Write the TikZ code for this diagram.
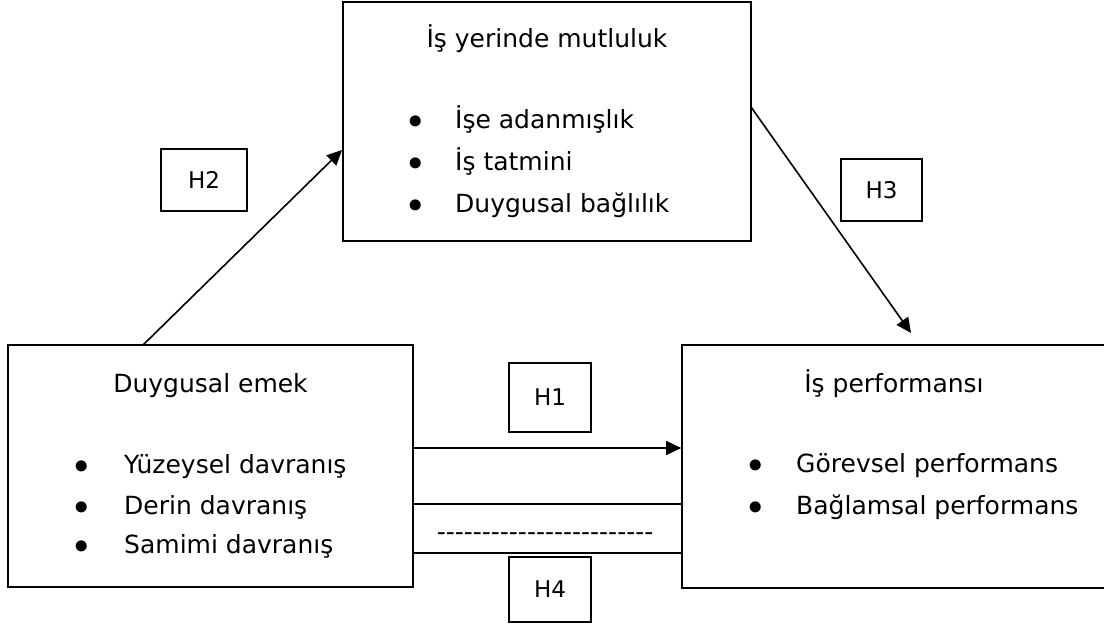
\documentclass[tikz,border=0pt]{standalone}
\usepackage{fontspec}
\setmainfont{DejaVu Sans}
\usetikzlibrary{arrows.meta}
\begin{document}
\begin{tikzpicture}[x=1pt,y=-1pt,
  box/.style={draw, line width=1.6pt, rectangle, inner sep=0pt},
  hbox/.style={draw, line width=1.4pt, rectangle, inner sep=0pt, font=\fontsize{23}{27}\selectfont},
  txt/.style={anchor=base west, inner sep=0pt, font=\fontsize{25}{30}\selectfont},
  ttl/.style={anchor=base, inner sep=0pt, font=\fontsize{25}{30}\selectfont},
  bul/.style={anchor=base, inner sep=0pt, font=\fontsize{38}{40}\selectfont},
  conn/.style={line width=1.6pt},
  arr/.style={line width=1.6pt, -{Triangle[length=15pt,width=14pt]}}]
\useasboundingbox (0,0) rectangle (1104,625);
\clip (0,0) rectangle (1104,625);
\fill[white] (0,0) rectangle (1104,625);
% boxes
\node[box, minimum width=408pt, minimum height=239pt] (top) at (547,121.5) {};
\node[box, minimum width=405pt, minimum height=242pt] (lb) at (210.5,466) {};
\node[box, minimum width=424pt, minimum height=243pt] (rb) at (894,466.5) {};
% top box text
\node[ttl] (tt) at (547,47) {İş yerinde mutluluk};
\node[bul] (tb1) at (416,135) {•};
\node[txt] (ti1) at (455,128) {İşe adanmışlık};
\node[bul] (tb2) at (416,177) {•};
\node[txt] (ti2) at (455,170) {İş tatmini};
\node[bul] (tb3) at (416,219) {•};
\node[txt] (ti3) at (455,212) {Duygusal bağlılık};
% left box text
\node[ttl] (lt) at (210.5,392) {Duygusal emek};
\node[bul] (lb1) at (82,480) {•};
\node[txt] (li1) at (124,473) {Yüzeysel davranış};
\node[bul] (lb2) at (82,521) {•};
\node[txt] (li2) at (124,514) {Derin davranış};
\node[bul] (lb3) at (82,560) {•};
\node[txt] (li3) at (124,553) {Samimi davranış};
% right box text
\node[ttl] (rt) at (894,392) {İş performansı};
\node[bul] (rb1) at (756,479) {•};
\node[txt] (ri1) at (796,472) {Görevsel performans};
\node[bul] (rb2) at (756,521) {•};
\node[txt] (ri2) at (796,514) {Bağlamsal performans};
% hypothesis labels
\node[hbox, minimum width=86pt, minimum height=62pt] (h2) at (204,180) {H2};
\node[hbox, minimum width=81pt, minimum height=62pt] (h3) at (881.5,190) {H3};
\node[hbox, minimum width=82pt, minimum height=69pt] (h1) at (550,397.5) {H1};
\node[hbox, minimum width=82pt, minimum height=65pt] (h4) at (550,589.5) {H4};
% connector points
\coordinate (a2s) at (143,345);
\coordinate (a2e) at (342,150);
\coordinate (a3s) at (751,107);
\coordinate (a3e) at (911,333);
\coordinate (a1s) at (lb.east |- 0,448);
\coordinate (a1e) at (rb.west |- 0,448);
\coordinate (l1s) at (lb.east |- 0,504);
\coordinate (l1e) at (rb.west |- 0,504);
\coordinate (l2s) at (lb.east |- 0,553);
\coordinate (l2e) at (rb.west |- 0,553);
\draw[arr] (a2s) -- (a2e);
\draw[arr] (a3s) -- (a3e);
\draw[arr] (a1s) -- (a1e);
\draw[conn] (l1s) -- (l1e);
\draw[conn] (l2s) -- (l2e);
\node[ttl] (dash) at (545,540) {-{}-{}-{}-{}-{}-{}-{}-{}-{}-{}-{}-{}-{}-{}-{}-{}-{}-{}-{}-{}-{}-{}-{}-};
\end{tikzpicture}
\end{document}
